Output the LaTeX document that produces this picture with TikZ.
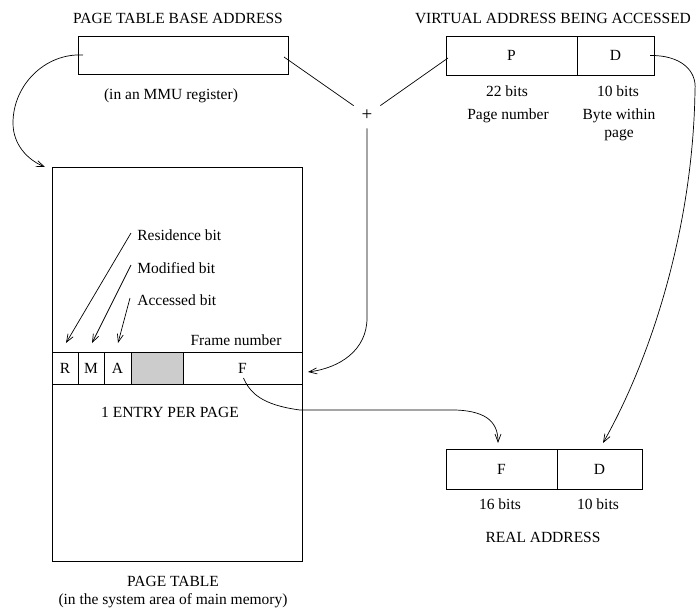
\documentclass[tikz,border=0pt]{standalone}
\usepackage{fontspec}
\setmainfont{Liberation Serif}
\usetikzlibrary{arrows.meta,positioning,calc}

\begin{document}
\begin{tikzpicture}[x=1pt, y=-1pt, >={Straight Barb[length=8pt,width=6pt]}, line width=0.7pt,
  font=\fontsize{15.5}{18.5}\selectfont]
\tikzstyle{box}=[draw, rectangle, inner sep=0pt, outer sep=0pt, minimum height=38pt]
\tikzstyle{cell}=[box, minimum height=32pt]
\tikzstyle{lbl}=[inner sep=0pt, align=center]
\useasboundingbox (0,0) rectangle (696,613);

% base address register
\node[lbl]                      (basetitle) at (178,18)  {PAGE TABLE BASE ADDRESS};
\node[box, minimum width=210pt] (base)      at (183,55)  {};
\node[lbl]                      (basenote)  at (171,96)  {(in an MMU register)};

% virtual address
\node[lbl]                       (vtitle) at (553,18)     {VIRTUAL ADDRESS BEING ACCESSED};
\node[box, minimum width=131pt, minimum height=39pt] (vP) at (511.5,55.5) {P};
\node[box, minimum width=77pt, minimum height=39pt]  (vD) [right=0pt of vP] {D};
\node[lbl] (vPbits) at (507,91)  {22 bits};
\node[lbl] (vDbits) at (618,91)  {10 bits};
\node[lbl] (vPname) at (508,116) {Page number};
\node[lbl] (vDname) at (619,125) {Byte within\\page};

\node[inner sep=0pt, minimum size=26pt, font=\fontsize{19}{19}\selectfont] (plus) at (367,115) {+};

% page table
\node[box, minimum width=250pt, minimum height=394pt] (table) at (177,364) {};
\node[cell, minimum width=26pt]               (cellR) at (65,368)     {R};
\node[cell, minimum width=26pt]               (cellM) [right=0pt of cellR] {M};
\node[cell, minimum width=27pt]               (cellA) [right=0pt of cellM] {A};
\node[cell, minimum width=52pt, fill=gray!40] (cellG) [right=0pt of cellA] {};
\node[cell, minimum width=119pt]              (cellF) [right=0pt of cellG] {F};
\node[lbl, anchor=west] (resbit)   at (137,235) {Residence bit};
\node[lbl, anchor=west] (modbit)   at (137,268) {Modified bit};
\node[lbl, anchor=west] (accbit)   at (137,300) {Accessed bit};
\node[lbl]              (framenum) at (236,340) {Frame number};
\node[lbl]              (perpage)  at (170,412) {1 ENTRY PER PAGE};
\node[lbl] (tabletitle) at (173,592) {PAGE TABLE\\(in the system area of main memory)};

% real address
\node[box, minimum width=111pt, minimum height=40pt] (rF) at (501.5,469) {F};
\node[box, minimum width=85pt, minimum height=40pt]  (rD) [right=0pt of rF] {D};
\node[lbl] (rFbits) at (500,504) {16 bits};
\node[lbl] (rDbits) at (598,504) {10 bits};
\node[lbl] (rtitle) at (543,537) {REAL ADDRESS};

% connectors
\path[->]
($(resbit.west)+(-6,-2)$) edge ($(cellR.north)+(1,-9)$)
($(modbit.west)+(-6,-3)$) edge ($(cellM.north)+(1,-9)$)
($(accbit.west)+(-7,-2)$) edge ($(cellA.north)+(0.5,-9)$);
\draw ($(base.east)+(-4,2)$) -- (plus);
\draw ($(vP.west)+(2,2.5)$) -- (plus);
\draw[->] (plus) -- (367,318) .. controls (367,350) and (340,368) .. ($(cellF.east)+(6,4)$);
\draw[->] ($(base.west)+(5,0)$) .. controls (45,53) and (13,85) .. (13,123)
  .. controls (13,145) and (28,160) .. ($(table.north west)+(-7,0)$);
\draw[->] ($(cellF.center)+(1,10)$) .. controls (250,393) and (262,405) .. (300,410)
  -- (455,410) .. controls (490,411) and (498,425) .. ($(rF.north)+(-3.5,-6)$);
\draw[->] ($(vD.east)+(-4,0)$) .. controls (680,55) and (697,70) .. (695,90)
  .. controls (693,230) and (650,360) .. ($(rD.north)+(3.5,-6)$);
\end{tikzpicture}
\end{document}
